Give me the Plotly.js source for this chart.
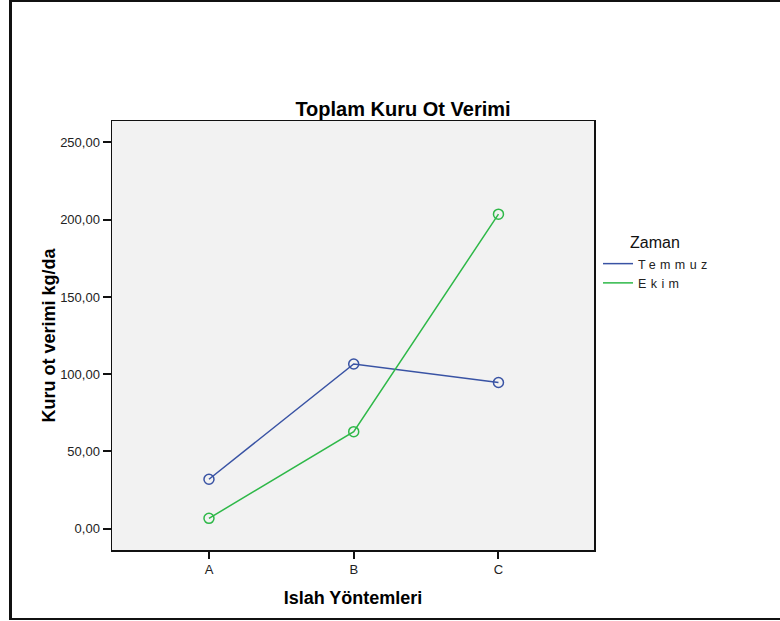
<!DOCTYPE html>
<html>
<head>
<meta charset="utf-8">
<script src="https://cdn.plot.ly/plotly-3.0.1.min.js"></script>
<style>
  html, body { margin: 0; padding: 0; background: #ffffff; }
  #frame { position: absolute; left: 9px; top: 0px; width: 800px; height: 616px;
           border-left: 3px solid #111; border-top: 2px solid #111; border-bottom: 2px solid #111; pointer-events: none; }
  #chart { position: absolute; left: 0; top: 0; width: 780px; height: 621px; }
  .legendtext { letter-spacing: 4.4px; }
</style>
</head>
<body>
<div id="chart"></div>
<div id="frame"></div>
<script>
// Data
var categories = ["A", "B", "C"];
var temmuzValues = [32.0, 106.6, 94.6];
var ekimValues = [6.7, 62.8, 203.6];
var seriesNames = ["Temmuz", "Ekim"];
var yTickValues = [0, 50, 100, 150, 200, 250];

var blue = "#3953a4";
var green = "#2eb848";

function seriesTrace(yvals, color) {
  return {
    type: "scatter", mode: "lines+markers",
    x: categories, y: yvals,
    line: { color: color, width: 1.5 },
    marker: { symbol: "circle-open", size: 10, color: color, line: { width: 1.5, color: color } },
    showlegend: false, hoverinfo: "skip"
  };
}
function legendTrace(name, color) {
  return {
    type: "scatter", mode: "lines", x: [null], y: [null], name: name,
    line: { color: color, width: 1.5 }, showlegend: true
  };
}

var data = [
  seriesTrace(temmuzValues, blue),
  seriesTrace(ekimValues, green),
  legendTrace(seriesNames[0], blue),
  legendTrace(seriesNames[1], green)
];

var FAM = "Arial, Liberation Sans, sans-serif";
var axisFont = { family: FAM, size: 13, color: "#222" };
var titleFont = { family: FAM, size: 18, color: "#000" };

var layout = {
  width: 780, height: 621,
  margin: { l: 112, r: 186, t: 121, b: 71, pad: 0 },
  paper_bgcolor: "#ffffff",
  plot_bgcolor: "#f2f2f2",
  separators: ",.",
  font: axisFont,
  title: {
    text: "<b>Toplam Kuru Ot Verimi</b>",
    font: { family: FAM, size: 20, color: "#000" },
    x: 403 / 780, xanchor: "center", xref: "container",
    y: 1 - 109 / 621, yanchor: "middle", yref: "container"
  },
  xaxis: {
    type: "category",
    range: [-0.67, 2.66],
    showgrid: false, zeroline: false,
    showline: true, mirror: true, linecolor: "#111", linewidth: 1.5,
    ticks: "outside", ticklen: 7, tickwidth: 2, tickcolor: "#111",
    tickfont: axisFont,
    title: { text: "<b>Islah Yöntemleri</b>", font: titleFont, standoff: 15 },
    automargin: false
  },
  yaxis: {
    range: [-13.8, 263.9],
    tickvals: yTickValues, tickformat: ".2f",
    showgrid: false, zeroline: false,
    showline: true, mirror: true, linecolor: "#111", linewidth: 1.5,
    ticks: "outside", ticklen: 8, tickwidth: 2, tickcolor: "#111",
    tickfont: axisFont,
    title: { text: "<b>Kuru ot verimi kg/da</b>", font: titleFont, standoff: 0 },
    automargin: false
  },
  showlegend: true,
  legend: {
    x: (598 - 112) / 482, xanchor: "left",
    y: 1 - (249 - 121) / 429, yanchor: "top",
    bgcolor: "rgba(0,0,0,0)", borderwidth: 0,
    font: { family: FAM, size: 12.5, color: "#222" },
    tracegroupgap: 0, itemwidth: 30
  },
  annotations: [{
    text: "Zaman", xref: "paper", yref: "paper",
    x: (628 - 112) / 482, xanchor: "left",
    y: 1 - (242 - 121) / 429, yanchor: "middle",
    showarrow: false,
    font: { family: FAM, size: 16, color: "#111" }
  }]
};

Plotly.newPlot("chart", data, layout, { displayModeBar: false, staticPlot: true });
</script>
</body>
</html>
